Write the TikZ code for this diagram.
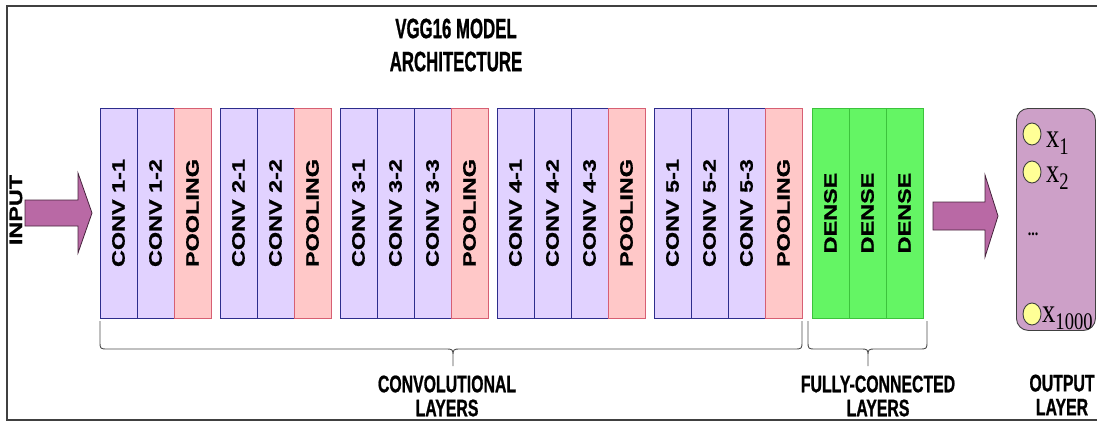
\documentclass[tikz,border=0pt]{standalone}
\usepackage{fontspec}
\setmainfont{Liberation Sans}
\newfontfamily\colfont[FakeStretch=1.3,FakeBold=0.8]{Liberation Sans}
\newfontfamily\capfont[FakeStretch=0.66,FakeBold=0.8]{Liberation Sans}
\newfontfamily\titlefont[FakeStretch=0.6,FakeBold=0.8]{Liberation Sans}
\newfontfamily\xfont[FakeStretch=0.78]{Liberation Serif}
\usetikzlibrary{positioning,shapes.geometric}

\definecolor{convfill}{RGB}{225,210,255}
\definecolor{convline}{RGB}{45,45,140}
\definecolor{poolfill}{RGB}{255,200,200}
\definecolor{poolline}{RGB}{215,95,115}
\definecolor{densefill}{RGB}{100,245,100}
\definecolor{denseline}{RGB}{60,195,60}
\definecolor{arrowfill}{RGB}{185,105,165}
\definecolor{arrowline}{RGB}{70,35,60}
\definecolor{outfill}{RGB}{205,160,200}
\definecolor{dotfill}{RGB}{255,255,150}

\tikzset{
  layer/.style={minimum width=37pt, minimum height=210pt, inner sep=0pt, outer sep=0pt, line width=0.8pt,
    font=\colfont\bfseries\fontsize{18}{18}\selectfont},
  convbox/.style={layer, draw=convline, fill=convfill},
  poolbox/.style={layer, draw=poolline, fill=poolfill},
  densebox/.style={layer, draw=denseline, fill=densefill},
  caption/.style={align=center, inner sep=0pt, font=\capfont\bfseries\fontsize{24}{24}\selectfont},
  blockarrow/.style={draw=arrowline, fill=arrowfill, line width=0.8pt},
  bracket/.style={draw=black!70, line width=0.9pt},
  outdot/.style={ellipse, draw=black!75, fill=dotfill, minimum width=18pt, minimum height=22pt, inner sep=0pt, line width=0.9pt},
  outlabel/.style={anchor=base west, inner sep=0pt, font=\xfont\fontsize{34}{34}\selectfont}
}

\begin{document}
\begin{tikzpicture}[x=1pt,y=-1pt]
    \useasboundingbox (0,0) rectangle (1097,423);
    \draw[black!75, line width=1.2pt] (1097,6) -- (7,6) -- (7,420) -- (1097,420);

    \node[caption, font=\titlefont\bfseries\fontsize{28}{33}\selectfont] (title) at (456,45) {VGG16 MODEL\\ARCHITECTURE};

    % input
    \node[font=\colfont\bfseries\fontsize{18}{18}\selectfont, inner sep=0pt] (input) at (16,210) {\rotatebox{90}{INPUT}};
    \coordinate (inarrow) at (25,213);
    \draw[blockarrow] (inarrow) ++(0,-13) -- ++(53,0) -- ++(0,-27) -- ++(14,40) -- ++(-14,40) -- ++(0,-27) -- ++(-53,0) -- cycle;

    % block 1
    \node[convbox, anchor=north west] (c11) at (100,108) {\rotatebox{90}{CONV 1-1}};
    \node[convbox, right=0pt of c11] (c12) {\rotatebox{90}{CONV 1-2}};
    \node[poolbox, right=0pt of c12] (p1) {\rotatebox{90}{POOLING}};

    % block 2
    \node[convbox, right=9pt of p1] (c21) {\rotatebox{90}{CONV 2-1}};
    \node[convbox, right=0pt of c21] (c22) {\rotatebox{90}{CONV 2-2}};
    \node[poolbox, right=0pt of c22] (p2) {\rotatebox{90}{POOLING}};

    % block 3
    \node[convbox, right=9pt of p2] (c31) {\rotatebox{90}{CONV 3-1}};
    \node[convbox, right=0pt of c31] (c32) {\rotatebox{90}{CONV 3-2}};
    \node[convbox, right=0pt of c32] (c33) {\rotatebox{90}{CONV 3-3}};
    \node[poolbox, right=0pt of c33] (p3) {\rotatebox{90}{POOLING}};

    % block 4
    \node[convbox, right=9pt of p3] (c41) {\rotatebox{90}{CONV 4-1}};
    \node[convbox, right=0pt of c41] (c42) {\rotatebox{90}{CONV 4-2}};
    \node[convbox, right=0pt of c42] (c43) {\rotatebox{90}{CONV 4-3}};
    \node[poolbox, right=0pt of c43] (p4) {\rotatebox{90}{POOLING}};

    % block 5
    \node[convbox, right=9pt of p4] (c51) {\rotatebox{90}{CONV 5-1}};
    \node[convbox, right=0pt of c51] (c52) {\rotatebox{90}{CONV 5-2}};
    \node[convbox, right=0pt of c52] (c53) {\rotatebox{90}{CONV 5-3}};
    \node[poolbox, right=0pt of c53] (p5) {\rotatebox{90}{POOLING}};

    % dense
    \node[densebox, right=10pt of p5] (d1) {\rotatebox{90}{DENSE}};
    \node[densebox, right=0pt of d1] (d2) {\rotatebox{90}{DENSE}};
    \node[densebox, right=0pt of d2] (d3) {\rotatebox{90}{DENSE}};

    % braces
    \draw[bracket] (100,321) -- (100,341) .. controls (100,349) .. (108,349) -- (445,349) .. controls (453,349) .. (453,357) -- (453,366)
                   (453,357) .. controls (453,349) .. (461,349) -- (794,349) .. controls (802,349) .. (802,341) -- (802,321);
    \draw[bracket] (808,321) -- (808,341) .. controls (808,349) .. (816,349) -- (860,349) .. controls (868,349) .. (868,357) -- (868,366)
                   (868,357) .. controls (868,349) .. (876,349) -- (919,349) .. controls (927,349) .. (927,341) -- (927,321);

    \node[caption] (convcap) at (447,396) {CONVOLUTIONAL\\LAYERS};
    \node[caption] (fccap) at (878,396) {FULLY-CONNECTED\\LAYERS};

    % output
    \coordinate (outarrow) at (933,216);
    \draw[blockarrow] (outarrow) ++(0,-14) -- ++(52,0) -- ++(0,-27) -- ++(13,41) -- ++(-13,41) -- ++(0,-27) -- ++(-52,0) -- cycle;

    \node[draw=black!75, fill=outfill, rounded corners=12pt, minimum width=79pt, minimum height=222pt,
          anchor=north west, line width=0.9pt] (outbox) at (1016,108) {};
    \node[outdot] (o1) at (1032,134) {};
    \node[outdot] (o2) at (1032,172) {};
    \node[outdot] (o3) at (1032,314) {};
    \node[outlabel] (x1) at (1046,147) {x\textsubscript{1}};
    \node[outlabel] (x2) at (1046,182) {x\textsubscript{2}};
    \node[font=\xfont\bfseries\fontsize{18}{18}\selectfont, inner sep=0pt] (dots) at (1033,234) {...};
    \node[outlabel] (x3) at (1042,322) {x\textsubscript{1000}};

    \node[caption] (outcap) at (1062,395) {OUTPUT\\LAYER};
\end{tikzpicture}
\end{document}
